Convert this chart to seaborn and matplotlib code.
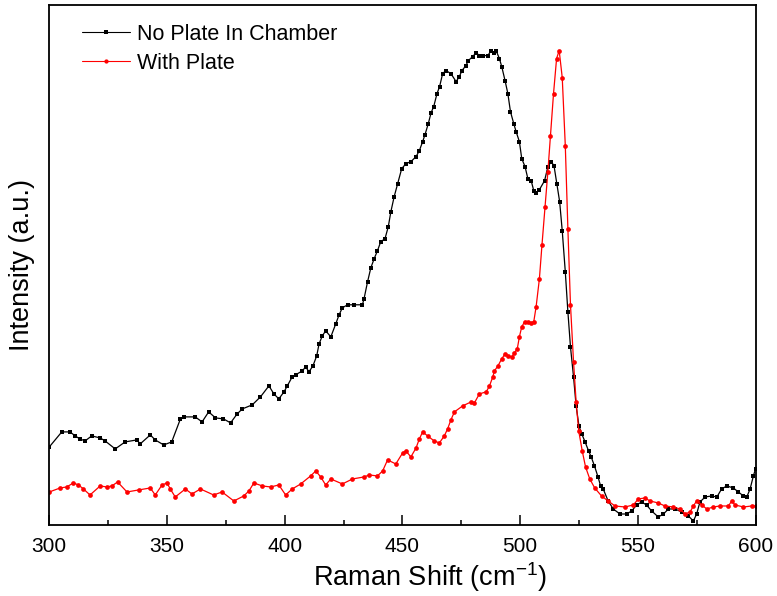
import matplotlib
matplotlib.use("Agg")
import matplotlib.pyplot as plt
import seaborn as sns
import pandas as pd
from matplotlib.ticker import MultipleLocator, NullLocator

# ---------------- data ----------------
no_plate_x = [300, 305.3, 308.8, 311, 313, 315.2, 318, 321.6, 323.7, 328, 332.2, 337.2, 338.6,
              342.9, 345, 348.6, 352, 355.7, 357.1, 362, 364.9, 367.7, 370.6, 374, 377, 379.8,
              382, 386.2, 389.7, 393.3, 395.4, 397.5, 399.7, 401.1, 403.2, 404.6, 407.5, 408.9,
              410.3, 412, 413.6, 414.6, 416, 417.4, 419.6, 421.7, 423.1, 424.5, 426.7, 429.5,
              433, 433.7, 435.2, 436.6, 438, 439.4, 440.8, 442.6, 444, 445.1, 446.5, 448, 449.7,
              451.5, 453.6, 455.8, 457.2, 458.6, 459.6, 461, 462.2, 463.3, 464.7, 465.8, 467.1,
              468.5, 470.6, 472.8, 474.2, 475.3, 477, 478, 479.9, 481.3, 482.7, 484.1, 486.3,
              487.7, 488.8, 489.8, 491.2, 492.2, 493.6, 494.8, 495.9, 497.3, 498.3, 499.7, 500.7,
              502.1, 503.3, 504.7, 505.8, 506.9, 508.2, 510.4, 511.8, 513.2, 514.4, 515.6, 516.8,
              517.9, 519.2, 520.3, 521.4, 522.7, 523.8, 525, 526.2, 527.6, 529.1, 530.2, 531.6,
              533.1, 534.2, 535.3, 537.4, 539.6, 542.4, 545.2, 547.4, 549.5, 551.6, 553.7, 555.9,
              558.7, 560.9, 563, 565.8, 568.7, 571.5, 573.6, 575, 576.4, 578.6, 581.4, 583.6,
              585.6, 587.8, 590.6, 592.7, 594.9, 596.3, 597.7, 599.1, 600]
no_plate_y = [78, 93, 93, 89, 86, 84, 89, 87, 84, 76, 83, 85, 81,
              90, 85, 80, 83, 106, 108, 108, 103, 113, 107, 106, 102, 111,
              116, 120, 128, 139, 131, 126, 133, 139, 148, 150, 154, 158,
              153, 159, 169, 181, 189, 194, 188, 201, 210, 217, 220, 220,
              220, 226, 243, 257, 266, 274, 283, 286, 298, 313, 328, 341, 356,
              361, 363, 368, 374, 383, 390, 401, 412, 418, 431, 438, 451,
              454, 451, 443, 448, 454, 459, 464, 468, 472, 469, 469, 469,
              474, 472, 474, 466, 458, 444, 431, 413, 401, 393, 383, 366,
              358, 346, 344, 334, 332, 335, 344, 358, 363, 359, 341, 323,
              294, 253, 213, 178, 148, 119, 99, 91, 83, 74, 68, 59,
              48, 39, 36, 24, 16, 11, 11, 14, 20, 23, 20, 14,
              8, 11, 16, 16, 13, 9, 4, 11, 23, 28, 29, 28,
              36, 39, 37, 33, 29, 28, 36, 49, 56]

with_plate_x = [300, 304.6, 307.4, 310.2, 312.4, 314.5, 317.3, 321.6, 324.4, 326.6, 329, 333,
                337.9, 342.9, 345, 347.9, 350, 351.4, 353.5, 357.8, 360.6, 364.2, 369.8, 373.4,
                378.4, 382.6, 384.8, 386.9, 390.5, 394, 397.5, 400.4, 403.2, 406.8, 411, 413.2,
                415.3, 417.4, 419.6, 424.5, 428.8, 433.7, 435.9, 439.4, 441.6, 443.7, 447.2,
                450.1, 451.5, 453.6, 455.8, 457.2, 458.6, 460.7, 463.5, 465.7, 467.8, 469.2,
                470.6, 472.1, 475.6, 479.2, 480.6, 482.7, 485.6, 487, 488.4, 489.1, 490.6, 492.2,
                493.6, 495, 496.5, 497.6, 498.8, 499.7, 500.7, 501.9, 503.3, 504.7, 505.8, 506.8,
                508.2, 509.3, 510.6, 511.8, 512.9, 514.2, 515.5, 516.6, 517.9, 519.2, 520.3,
                521.4, 522.7, 523.8, 524.9, 526.4, 527.8, 529.6, 531.7, 534.6, 537.4, 540.3,
                544.5, 548.1, 550.2, 553, 555.2, 558.7, 561.5, 565.1, 567.9, 570.1, 572.2, 573.6,
                575, 577.2, 579.3, 582.1, 584.9, 588.5, 589.9, 591.3, 594.9, 598.4, 600]
with_plate_y = [33, 37, 38, 42, 40, 36, 30, 39, 38, 39, 43, 33,
                35, 37, 30, 40, 42, 36, 28, 36, 31, 36, 30, 33,
                24, 29, 34, 42, 39, 38, 40, 30, 36, 41, 49, 54,
                48, 40, 46, 41, 46, 48, 50, 49, 54, 65, 61,
                72, 74, 68, 77, 86, 93, 89, 84, 82, 89, 96,
                105, 113, 119, 123, 122, 131, 133, 139, 148, 154, 159, 166,
                171, 169, 168, 172, 176, 188, 198, 203, 203, 202, 203, 218,
                246, 280, 318, 353, 389, 431, 466, 474, 447, 379, 296,
                220, 163, 123, 94, 74, 58, 46, 37, 29, 24, 19,
                18, 20, 26, 27, 24, 22, 19, 18, 16, 11, 13, 19,
                24, 20, 16, 18, 19, 19, 24, 20, 18, 19, 19]

labels = ["No Plate In Chamber", "With Plate"]
x_ticks = [300, 350, 400, 450, 500, 550, 600]

# ---------------- plot ----------------
sns.set_style("white")
plt.rcParams["font.family"] = ["Liberation Sans", "DejaVu Sans"]
plt.rcParams["mathtext.default"] = "regular"
plt.rcParams["text.color"] = "black"
plt.rcParams["axes.labelcolor"] = "black"
plt.rcParams["xtick.color"] = "black"
plt.rcParams["ytick.color"] = "black"

fig = plt.figure(figsize=(7.77, 5.96), dpi=100)
ax = fig.add_axes([49.3 / 777, 71 / 596, (755.5 - 49.3) / 777, (525 - 4.5) / 596])

df1 = pd.DataFrame({"x": no_plate_x, "y": no_plate_y})
df2 = pd.DataFrame({"x": with_plate_x, "y": with_plate_y})

sns.lineplot(data=df1, x="x", y="y", ax=ax, color="black", marker="s", markersize=3.2,
             markeredgewidth=0, linewidth=0.9, label=labels[0], estimator=None, sort=False)
sns.lineplot(data=df2, x="x", y="y", ax=ax, color="#ff0000", marker="o", markersize=3.4,
             markeredgewidth=0, linewidth=0.9, label=labels[1], estimator=None, sort=False)

ax.set_xlim(300, 600)
ax.set_ylim(0, 520)
ax.set_xticks(x_ticks)
ax.xaxis.set_minor_locator(MultipleLocator(25))
ax.yaxis.set_major_locator(NullLocator())
ax.tick_params(axis="x", which="major", direction="in", length=7, width=1.1,
               labelsize=15, pad=9, top=False, bottom=True, color="black",
               labelcolor="black")
ax.tick_params(axis="x", which="minor", direction="in", length=3.6, width=1.1,
               top=False, bottom=True, color="black")

for s in ax.spines.values():
    s.set_color("black")
    s.set_linewidth(1.3)

ax.set_xlabel("Raman Shift (cm$^{-1}$)", fontsize=19.5, color="black")
ax.xaxis.set_label_coords((430 - 49.3) / 706.2, -0.068)
ax.set_ylabel("Intensity (a.u.)", fontsize=19.5, labelpad=10, color="black")

leg = ax.legend(loc="upper left", bbox_to_anchor=(0.046, 0.963), frameon=False,
                fontsize=15.5, handlelength=2.25, handletextpad=0.3, labelspacing=0.36,
                borderpad=0, borderaxespad=0, numpoints=1, markerscale=0.9)
for t in leg.get_texts():
    t.set_color("black")
for line in leg.get_lines():
    line.set_linewidth(0.8)

fig.savefig("out.png", dpi=100, facecolor="white")
